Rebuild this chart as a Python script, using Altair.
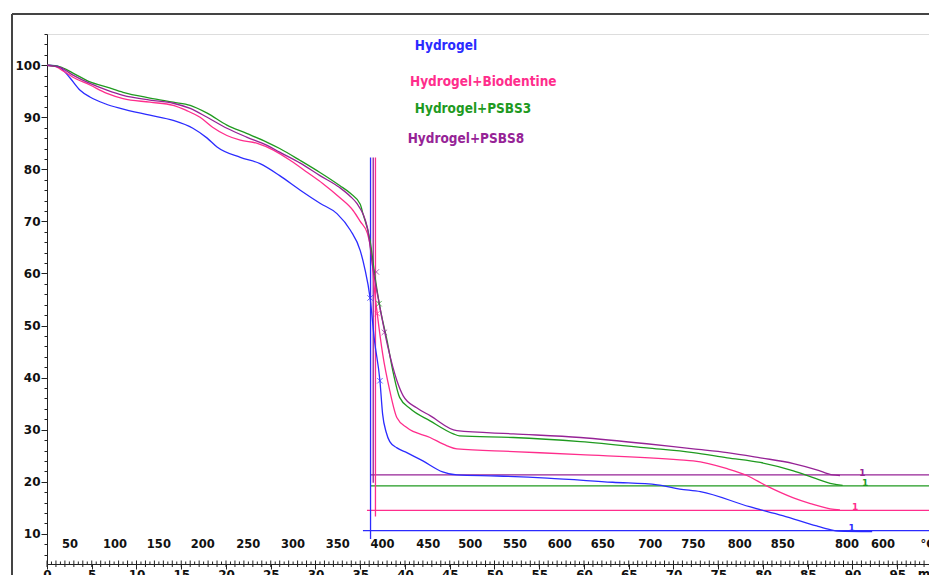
import altair as alt
import pandas as pd

SERIES = ["Hydrogel", "Hydrogel+Biodentine", "Hydrogel+PSBS3", "Hydrogel+PSBS8"]
COLORS = ["#2b2bff", "#ff2d8c", "#1f9a1f", "#962396"]

X_MAX = 98.55
Y_MIN, Y_MAX = 4.2, 106.0

# ---- TGA curves: time (min) and mass (%) ----
hyd_t = [0, 0.9, 1.45, 2.6, 3.7, 4.8, 6.5, 8.2, 11.5, 14.1, 16.3, 17.9, 19.0, 21.6, 23.8, 26.0,
         28.3, 30.5, 32.4, 33.9, 35.0, 35.5, 36.1, 36.6, 37.2, 37.5, 37.9, 38.3, 39.1, 40.2, 42.0,
         44.2, 45.8, 50.3, 55.9, 63.2, 68.2, 70.7, 73.0, 78.5, 82.2, 86.0, 87.5, 88.4, 92.2]
hyd_m = [100, 99.9, 99.6, 97.5, 95.2, 93.9, 92.6, 91.7, 90.4, 89.4, 87.9, 86.0, 84.3, 82.3, 81.1, 78.8,
         76.0, 73.5, 71.5, 68.3, 64.4, 61.0, 55.3, 47.0, 39.4, 33.0, 29.5, 27.7, 26.5, 25.6, 24.0,
         21.9, 21.3, 21.1, 20.7, 19.9, 19.4, 18.6, 18.1, 15.2, 13.5, 11.5, 10.8, 10.5, 10.4]

bio_t = [0, 0.9, 1.45, 2.9, 4.8, 6.7, 8.5, 11.5, 14.1, 15.6, 17.1, 18.5, 20.1, 21.6, 23.5, 25.3,
         27.2, 29.1, 30.8, 32.7, 34.2, 35.0, 35.8, 36.3, 36.6, 36.9, 37.5, 38.3, 39.1, 40.2, 42.8,
         44.7, 45.8, 52.1, 59.6, 70.7, 72.2, 76.0, 78.2, 80.4, 83.4, 85.3, 87.5, 88.6]
bio_m = [100, 99.8, 99.3, 97.7, 96.2, 94.6, 93.6, 92.9, 92.3, 91.3, 90.0, 88.1, 86.5, 85.6, 85.0, 83.7,
         81.7, 79.4, 77.3, 74.6, 72.1, 70.0, 67.7, 63.1, 56.7, 52.3, 44.6, 37.5, 32.3, 30.4, 28.5,
         26.9, 26.3, 25.8, 25.2, 24.2, 24.0, 22.5, 21.2, 19.2, 16.9, 15.8, 14.8, 14.6]

ps3_t = [0, 1.45, 2.9, 4.8, 6.7, 8.5, 11.5, 14.1, 16.0, 17.9, 20.1, 22.3, 24.6, 26.0, 28.3, 30.5,
         32.7, 33.9, 35.0, 35.3, 36.1, 36.6, 37.2, 38.0, 38.7, 39.4, 40.6, 42.8, 45.4, 46.1, 52.1,
         59.6, 67.0, 72.2, 76.0, 79.7, 83.4, 85.6, 87.8, 88.9]
ps3_m = [100, 99.7, 98.5, 96.8, 95.8, 94.8, 93.7, 92.9, 92.3, 90.8, 88.5, 86.9, 85.2, 84.0, 81.7, 79.4,
         76.9, 75.4, 73.3, 71.5, 66.3, 60.0, 53.5, 47.1, 40.8, 36.2, 34.0, 31.7, 29.2, 28.8, 28.5,
         27.7, 26.5, 25.6, 24.6, 23.7, 22.1, 20.8, 19.6, 19.3]

ps8_t = [0, 1.45, 2.9, 4.8, 6.7, 8.5, 11.5, 14.1, 16.0, 17.9, 20.1, 22.3, 24.6, 26.0, 28.3, 30.5,
         32.7, 33.9, 34.6, 35.8, 36.4, 37.2, 38.1, 39.1, 39.8, 41.3, 42.8, 45.8, 52.1, 59.6, 67.0,
         72.2, 76.0, 79.7, 83.4, 86.0, 87.8, 88.6]
ps8_m = [100, 99.6, 98.1, 96.5, 95.2, 94.2, 93.3, 92.7, 91.7, 90.0, 87.9, 86.2, 84.6, 83.3, 81.2, 78.8,
         76.5, 74.8, 73.5, 68.8, 61.2, 53.5, 45.8, 39.4, 36.5, 34.2, 32.7, 29.8, 29.2, 28.5, 27.3,
         26.3, 25.6, 24.6, 23.5, 22.3, 21.3, 21.2]

# residual-mass levels (horizontal lines) and their start times
res_level = [10.6, 14.5, 19.2, 21.3]
res_start = [35.3, 35.75, 36.1, 36.1]
one_t = [89.9, 90.3, 91.4, 91.1]
one_m = [11.1, 15.2, 19.8, 21.7]

# onset markers (vertical lines)
vline_series = ["Hydrogel", "Hydrogel+PSBS8", "Hydrogel+Biodentine"]
vline_t = [36.15, 36.45, 36.7]
vline_top = [82.3, 82.3, 82.3]
vline_bot = [9.0, 19.8, 13.3]

# x markers on the curves
xm_series = ["Hydrogel", "Hydrogel", "Hydrogel+PSBS8", "Hydrogel+Biodentine", "Hydrogel+PSBS8", "Hydrogel+PSBS3"]
xm_t = [36.1, 37.2, 36.8, 36.9, 37.7, 37.1]
xm_m = [55.3, 39.4, 60.3, 52.3, 48.7, 54.2]

# legend text positions
leg_t = [41.1, 40.56, 41.1, 40.3]
leg_m = [103.7, 96.76, 91.57, 85.8]

# temperature labels (°C) along the time axis
temp_labels = ["50", "100", "150", "200", "250", "300", "350", "400", "450", "500", "550", "600",
               "650", "700", "750", "800", "850", "800", "600", "°C"]
temp_pos = [2.57, 7.6, 12.5, 17.4, 22.5, 27.5, 32.5, 37.5, 42.6, 47.3, 52.3, 57.3, 62.1, 67.4,
            72.2, 77.4, 82.2, 89.4, 93.4, 98.4]
temp_row = 7.9

# time axis: labelled every 5 min, unit text at the end, minor ticks every 0.5 min
x_major = list(range(0, 96, 5))
x_unit = ["min"]
x_unit_pos = [97.3]
x_unit_row = 3.2
minor_whole = list(range(0, 99))
minor_half = [i + 0.5 for i in range(0, 98)]

rows = []
for name, ts, ms in zip(SERIES, [hyd_t, bio_t, ps3_t, ps8_t], [hyd_m, bio_m, ps3_m, ps8_m]):
    for i, (t, m) in enumerate(zip(ts, ms)):
        rows.append({"series": name, "t": t, "m": m, "o": i})
curves = pd.DataFrame(rows)

hlines = pd.DataFrame({"series": SERIES, "t": res_start, "t2": [X_MAX] * 4, "m": res_level})
ones = pd.DataFrame({"series": SERIES, "t": one_t, "m": one_m, "txt": ["1"] * 4})
vlines = pd.DataFrame({"series": vline_series, "t": vline_t, "m": vline_top, "m2": vline_bot})
xmarks = pd.DataFrame({"series": xm_series, "t": xm_t, "m": xm_m})
legend = pd.DataFrame({"series": SERIES, "t": leg_t, "m": leg_m})
temps = pd.DataFrame({"t": temp_pos, "txt": temp_labels, "m": [temp_row] * len(temp_pos)})
unit = pd.DataFrame({"t": x_unit_pos, "txt": x_unit, "m": [x_unit_row]})
whole = pd.DataFrame({"t": minor_whole})
half = pd.DataFrame({"t": minor_half})

color = alt.Color("series:N", scale=alt.Scale(domain=SERIES, range=COLORS), legend=None)

y_vals = list(range(6, 107, 2))

x_axis = alt.Axis(
    values=x_major, format="d", grid=False, domainColor="#222", tickColor="#222",
    tickSize=5, labelOverlap=False, labelFlush=False, labelPadding=0,
    labelFont="DejaVu Sans", labelFontWeight="bold", labelFontSize=12, labelColor="#111",
    title=None,
)
y_axis = alt.Axis(
    values=y_vals, grid=False, domainColor="#222", tickColor="#222",
    tickSize={"condition": {"test": "datum.value % 10 === 0", "value": 6}, "value": 3},
    labelExpr="(datum.value % 10 === 0 && datum.value <= 100) ? datum.label : ''",
    labelOverlap=False, labelFlush=False, labelPadding=1,
    labelFont="DejaVu Sans", labelFontWeight="bold", labelFontSize=12, labelColor="#111",
    title=None,
)
xs = alt.Scale(domain=[0, X_MAX], nice=False, zero=False)
ys = alt.Scale(domain=[Y_MIN, Y_MAX], nice=False, zero=False)

lines = alt.Chart(curves).mark_line(strokeWidth=1.3, interpolate="monotone").encode(
    color=color, order="o:Q", detail="series:N",
)
h = alt.Chart(hlines).mark_rule(strokeWidth=1.3).encode(x2="t2:Q", color=color)
v = alt.Chart(vlines).mark_rule(strokeWidth=1.3).encode(y2="m2:Q", color=color)
xm = alt.Chart(xmarks).mark_point(shape="M-1,-1L1,1M-1,1L1,-1", size=30, filled=False, strokeWidth=1).encode(
    color=color)
one_txt = alt.Chart(ones).mark_text(font="DejaVu Sans", fontWeight="bold", fontSize=9, baseline="middle").encode(
    text="txt:N", color=color)
leg_txt = alt.Chart(legend).mark_text(font="DejaVu Sans Condensed", fontWeight="bold", fontSize=13.5,
                                      align="left", baseline="middle").encode(
    text="series:N", color=color)
temp_txt = alt.Chart(temps).mark_text(font="DejaVu Sans", fontWeight="bold", fontSize=11.5,
                                      baseline="middle", color="#111").encode(text="txt:N")
unit_txt = alt.Chart(unit).mark_text(font="DejaVu Sans", fontWeight="bold", fontSize=12,
                                     align="left", baseline="top", color="#111").encode(text="txt:N")
whole_ticks = alt.Chart(whole).mark_rule(color="#222", strokeWidth=1).encode(
    y=alt.value(526.5), y2=alt.value(533))
half_ticks = alt.Chart(half).mark_rule(color="#222", strokeWidth=1).encode(
    y=alt.value(527.5), y2=alt.value(530))

frame_top = alt.Chart(temps).mark_rule(color="#444", strokeWidth=1.2).encode(
    x=alt.value(-35), x2=alt.value(900), y=alt.value(-20))
frame_left = alt.Chart(temps).mark_rule(color="#444", strokeWidth=1.5).encode(
    x=alt.value(-35), y=alt.value(-20), y2=alt.value(560))

chart = alt.layer(
    h, v, lines, xm, one_txt, leg_txt, temp_txt, unit_txt, whole_ticks, half_ticks, frame_top, frame_left
).encode(
    x=alt.X("t:Q", scale=xs, axis=x_axis),
    y=alt.Y("m:Q", scale=ys, axis=y_axis),
).properties(
    width=882, height=530,
    autosize=alt.AutoSizeParams(type="none"),
    padding={"left": 39, "top": 26, "right": 0, "bottom": 11},
).configure_view(stroke=None).configure(background="white")

chart.save("out.html", embed_options={"renderer": "svg", "actions": False})
